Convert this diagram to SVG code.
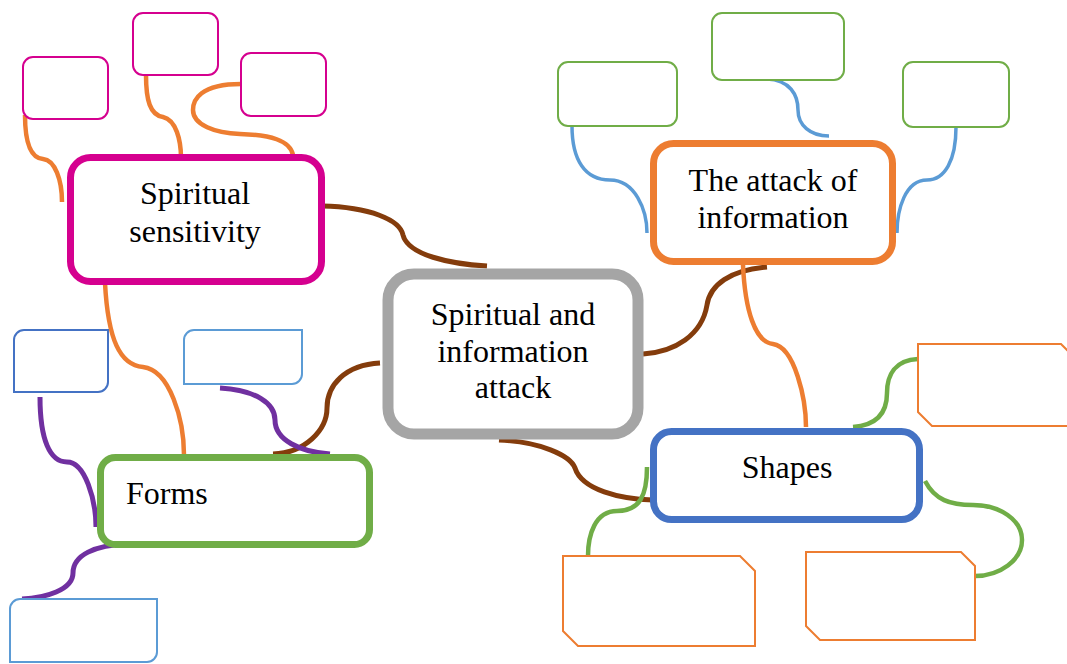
<svg xmlns="http://www.w3.org/2000/svg" width="1067" height="664" viewBox="0 0 1067 664">
<style>
.t{font-family:"Liberation Serif","Times New Roman",serif;font-size:32px;fill:#000}
.c{fill:none;stroke-linecap:butt}
.br{stroke:#843C0C;stroke-width:5}
.or{stroke:#ED7D31;stroke-width:4.5}
.bl{stroke:#5B9BD5;stroke-width:3.5}
.gr{stroke:#70AD47;stroke-width:4.5}
.pu{stroke:#7030A0;stroke-width:5}
.sm{fill:#fff;stroke-width:2}
</style>
<rect width="1067" height="664" fill="#fff"/>
<g id="connectors">
<path class="c br" d="M322,206 C370,207 400,220 403,235 C408,255 450,264 487,266"/>
<path class="c br" d="M767,267 C730,270 710,285 707,305 C702,335 675,352 643,354"/>
<path class="c br" d="M499,440 C540,442 570,455 575,468 C582,490 620,499 653,500"/>
<path class="c br" d="M380,363 C345,365 327,385 327,408 C327,430 305,453 273,454"/>
<path class="c or" d="M25,115 C25,140 30,158 43,159 C55,160 62,180 62,202"/>
<path class="c or" d="M146,75 C146,100 150,115 163,117 C176,120 181,140 181,158"/>
<path class="c or" d="M241,84 C200,84 193,100 193,110 C193,125 215,133 240,134 C270,135 290,140 293,155"/>
<path class="c or" d="M105,283 C108,340 120,365 143,367 C170,370 184,420 184,455"/>
<path class="c or" d="M743,265 C745,310 755,342 773,344 C795,347 806,400 806,427"/>
<path class="c bl" d="M572,126 C572,160 585,180 610,180 C635,180 647,210 647,233"/>
<path class="c bl" d="M767,79 C790,80 798,95 798,110 C798,125 810,136 829,136"/>
<path class="c bl" d="M956,127 C956,160 945,180 927,180 C905,180 897,210 897,233"/>
<path class="c gr" d="M853,427 C880,425 887,410 887,393 C887,375 895,360 918,359"/>
<path class="c gr" d="M647,467 C647,495 640,511 617,511 C595,511 588,535 588,556"/>
<path class="c gr" d="M925,481 C935,500 950,505 973,505 C1000,505 1022,520 1022,540 C1022,560 1000,576 975,576"/>
<path class="c pu" d="M40,397 C40,440 50,462 67,462 C85,462 96,500 96,527"/>
<path class="c pu" d="M220,388 C255,390 275,403 275,420 C275,440 300,452 330,454"/>
<path class="c pu" d="M128,544 C95,545 73,555 73,573 C73,590 45,598 22,599"/>
</g>
<g id="center">
<rect x="388" y="274" width="250" height="160" rx="26" fill="#fff" stroke="#A5A5A5" stroke-width="11"/>
<text class="t" text-anchor="middle" x="513" y="325">Spiritual and</text>
<text class="t" text-anchor="middle" x="513" y="362">information</text>
<text class="t" text-anchor="middle" x="513" y="398">attack</text>
</g>
<g id="spiritual-sensitivity">
<rect x="70.5" y="157.5" width="251" height="124" rx="20" fill="#fff" stroke="#D5008F" stroke-width="7"/>
<text class="t" text-anchor="middle" x="195" y="204">Spiritual</text>
<text class="t" text-anchor="middle" x="195" y="242">sensitivity</text>
</g>
<g id="ss-box1"><rect class="sm" x="23" y="57" width="85" height="62" rx="10" stroke="#D5008F"/></g>
<g id="ss-box2"><rect class="sm" x="133" y="13" width="85" height="62" rx="10" stroke="#D5008F"/></g>
<g id="ss-box3"><rect class="sm" x="241" y="53" width="85" height="63" rx="10" stroke="#D5008F"/></g>
<g id="attack-information">
<rect x="653.5" y="143.5" width="239" height="118" rx="20" fill="#fff" stroke="#ED7D31" stroke-width="7"/>
<text class="t" text-anchor="middle" x="773" y="191">The attack of</text>
<text class="t" text-anchor="middle" x="773" y="228">information</text>
</g>
<g id="ai-box1"><rect class="sm" x="558" y="62" width="119" height="64" rx="10" stroke="#70AD47"/></g>
<g id="ai-box2"><rect class="sm" x="712" y="13" width="132" height="67" rx="10" stroke="#70AD47"/></g>
<g id="ai-box3"><rect class="sm" x="903" y="62" width="106" height="65" rx="10" stroke="#70AD47"/></g>
<g id="shapes">
<rect x="653.5" y="431.5" width="266" height="88" rx="18" fill="#fff" stroke="#4472C4" stroke-width="7"/>
<text class="t" text-anchor="middle" x="787" y="478">Shapes</text>
</g>
<g id="sh-box1"><path class="sm" stroke="#ED7D31" d="M918,344 H1061 L1075,358 V426 H932 L918,412 Z"/></g>
<g id="sh-box2"><path class="sm" stroke="#ED7D31" d="M563,556 H740 L755,571 V646 H578 L563,631 Z"/></g>
<g id="sh-box3"><path class="sm" stroke="#ED7D31" d="M806,552 H961 L975,566 V640 H820 L806,626 Z"/></g>
<g id="forms">
<rect x="100.5" y="457.5" width="269" height="87" rx="15" fill="#fff" stroke="#70AD47" stroke-width="7"/>
<text class="t" x="126" y="504">Forms</text>
</g>
<g id="fo-box1"><path class="sm" stroke="#4472C4" d="M24,330 H108 V382 A10,10 0 0 1 98,392 H14 V340 A10,10 0 0 1 24,330 Z"/></g>
<g id="fo-box2"><path class="sm" stroke="#5B9BD5" d="M194,330 H302 V374 A10,10 0 0 1 292,384 H184 V340 A10,10 0 0 1 194,330 Z"/></g>
<g id="fo-box3"><path class="sm" stroke="#5B9BD5" d="M20,599 H157 V652 A10,10 0 0 1 147,662 H10 V609 A10,10 0 0 1 20,599 Z"/></g>
</svg>
